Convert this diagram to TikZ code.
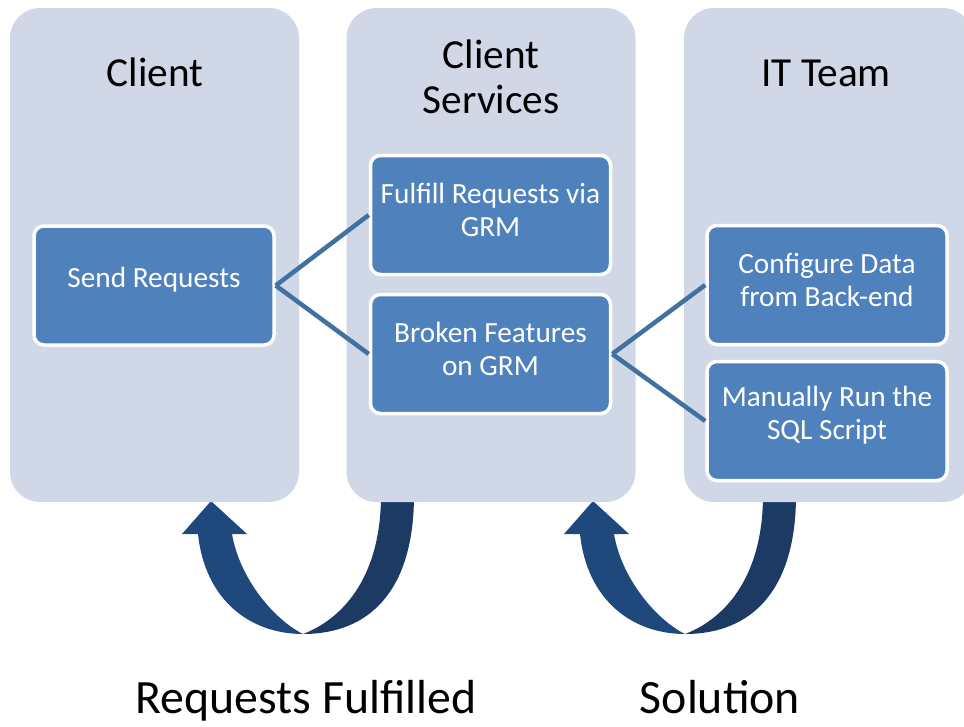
\documentclass[tikz,border=0pt]{standalone}
\usepackage{fontspec}
\setmainfont{Carlito}
\definecolor{colbg}{RGB}{208,216,232}
\definecolor{boxblue}{RGB}{79,129,189}
\definecolor{connc}{RGB}{65,113,160}
\definecolor{arrL}{RGB}{31,73,125}
\definecolor{arrR}{RGB}{28,58,99}
\begin{document}
\begin{tikzpicture}[x=1pt,y=-1pt,
  col/.style={fill=colbg, rounded corners=30pt, minimum width=289pt, minimum height=494pt, inner sep=0pt},
  ibox/.style={fill=boxblue, draw=white, line width=3.5pt, rounded corners=10pt, minimum width=240pt, minimum height=119pt, inner sep=0pt},
  ilab/.style={text=white, align=center, font=\fontsize{29.3}{33}\selectfont, yshift=5.5pt},
  head/.style={text=black, align=center, font=\fontsize{41.3}{45}\selectfont},
  foot/.style={text=black, font=\fontsize{47.8}{52}\selectfont},
  conn/.style={draw=connc, line width=4.5pt},
  arrowL/.style={fill=arrL},
  arrowR/.style={fill=arrR}]
\useasboundingbox (0,0) rectangle (964,726);
% curved arrows (behind the columns)
\fill[arrowR] (414,495) .. controls (414,590) and (370,634) .. (303,634)
   .. controls (340,620) and (381,580) .. (381,495) -- cycle;
\fill[arrowL] (303,634) .. controls (250,634) and (205,600) .. (198,534)
   -- (182,534) -- (211,501) -- (247,534) -- (232,534)
   .. controls (240,580) and (275,620) .. (303,634) -- cycle;
\begin{scope}[xshift=382pt]
\fill[arrowR] (414,495) .. controls (414,590) and (370,634) .. (303,634)
   .. controls (340,620) and (381,580) .. (381,495) -- cycle;
\fill[arrowL] (303,634) .. controls (250,634) and (205,600) .. (198,534)
   -- (182,534) -- (211,501) -- (247,534) -- (232,534)
   .. controls (240,580) and (275,620) .. (303,634) -- cycle;
\end{scope}
% columns
\node[col] (c1) at (154.5,255) {};
\node[col] (c2) at (491,255) {};
\node[col] (c3) at (828.5,255) {};
\node[head, anchor=base] (h1) at (155,86) {Client};
\node[head] (h2) at (491,77) {Client\\Services};
\node[head, anchor=base] (h3) at (826,86) {IT Team};
% inner boxes
\node[ibox, label={[ilab]center:Send Requests}] (sr) at (154,285.5) {};
\node[ibox, label={[ilab]center:Fulfill Requests via\\GRM}] (fr) at (490.5,215) {};
\node[ibox, label={[ilab]center:Broken Features\\on GRM}] (bf) at (490.5,354) {};
\node[ibox, label={[ilab]center:Configure Data\\from Back-end}] (cd) at (827,285) {};
\node[ibox, label={[ilab]center:Manually Run the\\SQL Script}] (mr) at (827,421) {};
% connectors
\draw[conn] (sr.east) -- (fr.west);
\draw[conn] (sr.east) -- (bf.west);
\draw[conn] (bf.east) -- (cd.west);
\draw[conn] (bf.east) -- (mr.west);
% footer labels
\node[foot, anchor=base] (f1) at (306,713) {Requests Fulfilled};
\node[foot, anchor=base] (f2) at (720,713) {Solution};
\end{tikzpicture}
\end{document}
